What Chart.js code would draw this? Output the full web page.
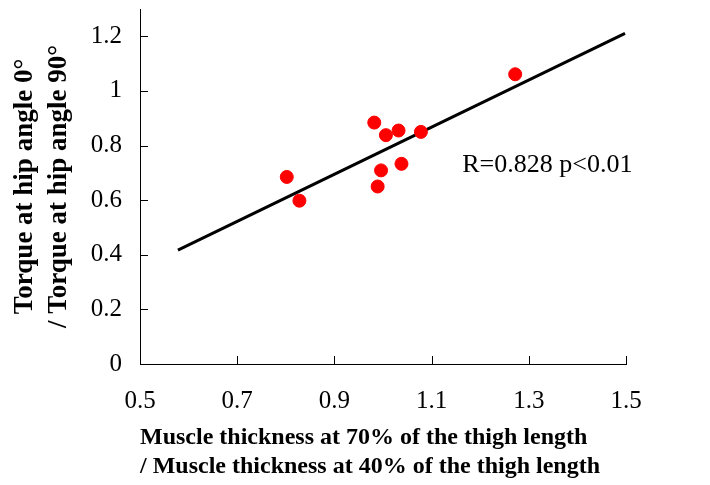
<!DOCTYPE html>
<html>
<head>
<meta charset="utf-8">
<script src="https://cdn.jsdelivr.net/npm/chart.js@4"></script>
<style>
  html, body { margin: 0; padding: 0; background: #fff; }
  #wrap { width: 710px; height: 485px; }
</style>
</head>
<body>
<div id="wrap"><canvas id="scatterChart" width="710" height="485"></canvas></div>
<script>
const thicknessRatio = [0.802, 0.828, 0.982, 1.006, 1.032, 1.078, 0.996, 1.038, 0.989, 1.272];
const torqueRatio = [0.685, 0.598, 0.884, 0.838, 0.855, 0.850, 0.709, 0.733, 0.650, 1.061];

// regression line ends
const fitX = [0.578, 1.498];
const fitY = [0.417, 1.211];

const xTicks = [0.5, 0.7, 0.9, 1.1, 1.3, 1.5];
const yTicks = [0, 0.2, 0.4, 0.6, 0.8, 1, 1.2];

const statsLabel = 'R=0.828 p<0.01';
const serif = '"Liberation Serif", "Times New Roman", serif';

function fmt(v) {
    return String(Number(v.toFixed(2)));
}

// inside tick marks + the R / p text
const extrasPlugin = {
    id: 'extras',
    afterDraw(chart) {
        const ctx = chart.ctx;
        const xs = chart.scales.x;
        const ys = chart.scales.y;
        const area = chart.chartArea;
        ctx.save();
        ctx.strokeStyle = '#000';
        ctx.lineWidth = 1;
        ctx.beginPath();
        yTicks.forEach(v => {
            const py = Math.round(ys.getPixelForValue(v)) + 0.5;
            ctx.moveTo(area.left, py);
            ctx.lineTo(area.left + 8, py);
        });
        xTicks.forEach(v => {
            const px = Math.round(xs.getPixelForValue(v)) + 0.5;
            ctx.moveTo(px, area.bottom);
            ctx.lineTo(px, area.bottom - 8);
        });
        ctx.stroke();

        ctx.fillStyle = '#000';
        ctx.font = '26px ' + serif;
        ctx.textAlign = 'left';
        ctx.textBaseline = 'middle';
        ctx.fillText(statsLabel, xs.getPixelForValue(1.163), ys.getPixelForValue(0.728));
        ctx.restore();
    }
};

document.addEventListener('DOMContentLoaded', function() {
    const ctx = document.getElementById('scatterChart').getContext('2d');

    new Chart(ctx, {
        type: 'scatter',
        data: {
            datasets: [{
                label: 'points',
                data: thicknessRatio.map((x, i) => ({ x: x, y: torqueRatio[i] })),
                backgroundColor: '#ff0000',
                borderColor: '#ff0000',
                pointRadius: 6.5,
                pointHoverRadius: 6.5,
                order: 1
            }, {
                label: 'fit',
                type: 'line',
                data: fitX.map((x, i) => ({ x: x, y: fitY[i] })),
                borderColor: '#000',
                borderWidth: 3,
                pointRadius: 0,
                fill: false,
                order: 2
            }]
        },
        options: {
            responsive: false,
            animation: false,
            layout: {
                padding: { top: 9, right: 84, bottom: 4, left: 0 }
            },
            plugins: {
                legend: { display: false },
                tooltip: { enabled: false }
            },
            scales: {
                x: {
                    type: 'linear',
                    min: 0.5,
                    max: 1.5,
                    afterBuildTicks: s => { s.ticks = xTicks.map(v => ({ value: v })); },
                    afterFit: s => { s.height = 117; },
                    grid: { display: true, drawOnChartArea: false, drawTicks: false },
                    border: { color: '#000', width: 1 },
                    ticks: {
                        padding: 22,
                        color: '#000',
                        font: { family: serif, size: 25 },
                        callback: v => fmt(v)
                    },
                    title: {
                        display: true,
                        align: 'start',
                        text: ['Muscle thickness at 70% of the thigh length',
                               '/ Muscle thickness at 40% of the thigh length'],
                        color: '#000',
                        font: { family: serif, size: 24, weight: 'bold', lineHeight: 1.2 },
                        padding: { top: 4, bottom: 0 }
                    }
                },
                y: {
                    type: 'linear',
                    min: 0,
                    max: 1.3,
                    afterBuildTicks: s => { s.ticks = yTicks.map(v => ({ value: v })); },
                    afterFit: s => {
                        s.width = 140;
                        s.paddingTop = 0;
                        s.paddingBottom = 0;
                    },
                    grid: { display: true, drawOnChartArea: false, drawTicks: false },
                    border: { color: '#000', width: 1 },
                    ticks: {
                        padding: 18,
                        color: '#000',
                        font: { family: serif, size: 25 },
                        callback: v => fmt(v)
                    },
                    title: {
                        display: true,
                        text: ['Torque at hip angle 0°', '/ Torque at hip angle 90°'],
                        color: '#000',
                        font: { family: serif, size: 27, weight: 'bold', lineHeight: 1.25 },
                        padding: { top: 8, bottom: 4 }
                    }
                }
            }
        },
        plugins: [extrasPlugin]
    });
});
</script>
</body>
</html>
